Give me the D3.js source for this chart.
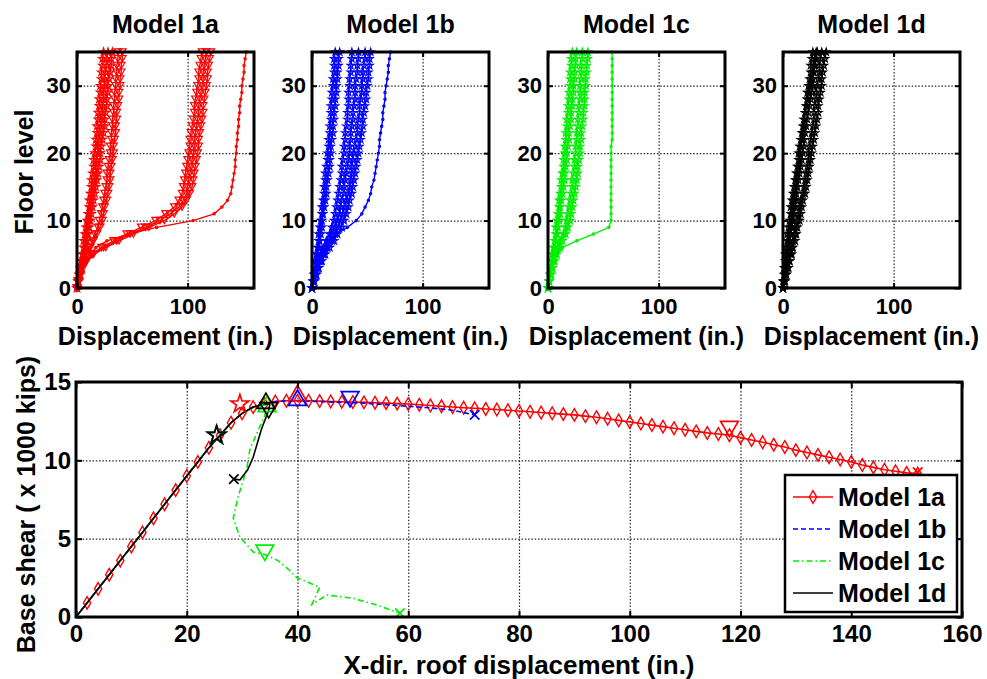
<!DOCTYPE html>
<html><head><meta charset="utf-8">
<script src="https://cdn.jsdelivr.net/npm/d3@7/dist/d3.min.js"></script>
<style>body{margin:0;background:#fff}svg{display:block}</style>
</head><body>
<svg id="c" width="987" height="679"></svg>
<script>
// ---------------- DATA ----------------
const floors = [0,1,2,3,4,5,6,7,8,9,10,11,12,13,14,15,16,17,18,19,20,21,22,23,24,25,26,27,28,29,30,31,32,33,34,35];
const panelTitles = ['Model 1a','Model 1b','Model 1c','Model 1d'];
const topXTicks = [0, 100];
const topYTicks = [0, 10, 20, 30];

// Model 1a displacement profiles (in.) per floor
const m1aElastic = [
 [0,1,2,3,4,5,6,6,7,8,9,10,11,11,12,13,13,14,15,15,16,17,17,18,18,19,19,20,20,21,21,22,22,23,23,24],
 [0,1,2,3,4,6,7,8,9,10,11,11,12,13,14,15,16,17,17,18,19,19,20,21,22,22,23,23,24,24,25,25,26,27,27,28],
 [0,1,3,4,5,6,8,9,10,11,12,13,14,15,16,17,18,19,20,21,21,22,23,24,25,25,26,27,27,28,28,29,30,31,31,32]
];
const m1aYield = [
 [0,1,3,4,6,9,11,14,16,19,20,22,23,24,25,26,27,27,28,29,30,30,31,31,32,32,33,33,34,34,35,35,36,36,37,37],
 [0,2,3,5,7,9,12,15,18,21,23,24,25,27,28,29,30,30,31,32,33,33,34,35,35,36,36,37,38,38,39,39,40,40,41,41]
];
const m1aSoft = [
 [0,1,3,5,8,13,22,33,45,58,71,80,88,92,95,96,97,98,99,100,101,102,102,103,104,105,106,106,107,108,109,110,110,111,112,113],
 [0,1,3,5,8,14,24,36,48,62,75,84,92,96,99,100,101,102,103,104,105,106,106,107,108,109,110,110,111,112,113,114,114,115,116,117],
 [0,1,3,5,9,15,26,38,51,65,79,88,95,99,102,104,105,106,107,108,109,110,110,111,112,113,114,114,115,116,117,118,118,119,120,121]
];
const m1aFinal = [
 [0,2,4,6,9,12,17,27,46,72,105,124,131,136,139,140,141,142,143,143,144,144,145,145,146,146,147,147,148,149,149,150,151,151,152,153]
];
// Model 1b
const m1bElastic = [
 [0,1,2,3,3,4,5,6,6,7,8,9,9,10,11,11,12,12,13,14,14,15,15,16,16,17,17,17,18,18,19,19,20,20,20,21],
 [0,1,2,3,4,5,6,7,8,9,9,10,11,12,13,13,14,15,16,16,17,17,18,19,19,20,20,21,21,22,22,23,23,24,24,25]
];
const m1bYield = [
 [0,1,3,4,6,8,11,13,16,18,20,21,22,23,24,25,26,27,27,28,29,29,30,30,31,32,32,33,33,33,34,34,35,35,36,36],
 [0,2,3,5,7,10,13,16,18,21,23,25,26,27,29,29,30,31,32,33,34,34,35,35,36,37,37,38,39,39,39,40,41,41,42,42],
 [0,2,4,6,8,11,14,18,21,24,26,28,30,31,33,34,35,36,36,37,38,39,40,41,41,42,43,43,44,45,45,46,46,47,48,48],
 [0,2,4,6,9,12,16,20,23,27,29,31,33,34,36,37,38,39,40,41,42,43,44,45,46,46,47,48,49,49,50,51,51,52,52,53]
];
const m1bFinal = [
 [0,1,2,3,5,7,9,13,22,32,40,45,48,51,53,54,56,57,58,59,60,61,61,62,63,64,64,65,66,66,67,68,69,69,70,71]
];
// Model 1c
const m1cElastic = [
 [0,1,2,3,4,4,5,6,7,7,8,9,10,10,11,12,12,13,14,14,15,15,16,16,17,17,18,18,19,19,20,20,20,21,21,22],
 [0,1,2,3,4,5,6,7,8,9,10,11,11,12,13,14,15,15,16,17,17,18,19,19,20,21,21,22,22,23,23,24,24,25,25,26]
];
const m1cYield = [
 [0,1,2,4,5,7,9,11,14,16,17,18,19,20,21,22,22,23,24,24,25,25,26,26,27,27,28,28,29,29,29,30,30,30,31,31],
 [0,1,3,4,6,8,11,13,16,18,20,21,22,23,24,25,26,27,27,28,29,29,30,30,31,32,32,33,33,33,34,34,35,35,36,36]
];
const m1cFinal = [
 [0,1,2,3,5,8,13,26,41,55,57,57,57,57,57,57,57,57,57,57,57,57,58,58,58,58,58,58,58,58,58,58,58,58,58,58]
];
// Model 1d
const m1dProfiles = [
 [0,0,1,1,2,2,3,4,4,5,6,7,7,8,9,10,11,12,13,14,14,15,16,17,18,19,20,21,22,23,25,26,27,28,29,30],
 [0,1,2,2,3,4,5,5,6,7,8,8,9,10,11,12,12,13,14,15,15,16,17,18,19,19,20,21,22,22,23,24,25,25,26,27],
 [0,1,2,3,4,4,5,6,7,8,9,10,11,12,12,13,14,15,16,17,18,19,19,20,21,22,23,24,25,26,27,27,28,29,30,31],
 [0,1,3,4,6,7,8,9,11,12,13,14,15,16,18,19,20,21,22,23,23,24,25,26,27,28,28,29,30,30,31,32,33,33,34,35],
 [0,2,3,5,6,8,9,11,12,13,15,16,17,18,20,21,22,23,24,25,26,27,28,29,30,31,32,32,33,34,35,35,36,37,38,39]
];

// Pushover curves: roof displacement (in.) vs base shear (x1000 kips)
const bottomXTicks = [0,20,40,60,80,100,120,140,160];
const bottomYTicks = [0,5,10,15];
const legendLabels = ['Model 1a','Model 1b','Model 1c','Model 1d'];

const push1aX = [0,2,4,6,8,10,12,14,16,18,20,22,24,26,28,30,32,34,36,38,40,42,44,46,48,50,52,54,56,58,60,62,64,66,68,70,72,74,76,78,80,82,84,86,88,90,92,94,96,98,100,102,104,106,108,110,112,114,116,118,120,122,124,126,128,130,132,134,136,138,140,142,144,146,148,150,152];
const push1aY = [0,0.9,1.8,2.7,3.6,4.5,5.4,6.3,7.2,8.1,9.0,9.9,10.8,11.6,12.4,13.0,13.4,13.6,13.75,13.8,13.8,13.8,13.78,13.76,13.74,13.72,13.7,13.68,13.65,13.62,13.6,13.55,13.5,13.45,13.4,13.36,13.32,13.28,13.24,13.2,13.15,13.1,13.05,13.0,12.95,12.9,12.82,12.75,12.65,12.55,12.45,12.35,12.25,12.15,12.05,11.95,11.85,11.75,11.68,11.6,11.45,11.3,11.15,11.0,10.85,10.65,10.5,10.35,10.2,10.05,9.9,9.7,9.55,9.4,9.3,9.2,9.15];
const push1bX = [0,2,4,6,8,10,12,14,16,18,20,22,24,26,28,30,32,34,36,38,40,44,48,52,56,60,64,68,70,72];
const push1bY = [0,0.9,1.8,2.7,3.6,4.5,5.4,6.3,7.2,8.1,9.0,9.9,10.8,11.6,12.4,13.0,13.4,13.6,13.75,13.8,13.8,13.75,13.7,13.65,13.55,13.45,13.35,13.2,13.05,12.9];
const push1cX = [0,2,4,6,8,10,12,14,16,18,20,22,24,26,28,30,32,34,34.7,34,33,31.4,30.8,29.3,28.4,29.6,32,34,36.5,38.5,39.9,42,44,42.6,45.3,50,54,58.5];
const push1cY = [0,0.9,1.8,2.7,3.6,4.5,5.4,6.3,7.2,8.1,9.0,9.9,10.8,11.6,12.4,13.0,13.35,13.55,13.5,12.8,12.0,10.7,9.4,7.7,6.3,5.1,4.15,4.0,3.6,3.0,2.5,2.2,1.9,0.8,1.4,1.2,0.8,0.25];
const push1dX = [0,2,4,6,8,10,12,14,16,18,20,22,24,26,28,30,32,34,35,34.8,33.5,32,31,29.6,28.5];
const push1dY = [0,0.9,1.8,2.7,3.6,4.5,5.4,6.3,7.2,8.1,9.0,9.9,10.8,11.6,12.4,13.0,13.4,13.6,13.6,13.2,12.0,10.2,9.4,8.75,8.8];

// Event points in order: [star, triangle-up, triangle-down, x]
const events1a = [[29.6,13.6],[40,14.3],[118,12.0],[152,9.25]];
const events1b = [[25.4,11.6],[40,14.0],[49.5,13.9],[72,12.9]];
const events1c = [[25.4,11.6],[34.5,13.6],[34.1,4.1],[58.5,0.25]];
const events1d = [[25.4,11.6],[34.3,13.8],[34.8,13.2],[28.5,8.8]];

// ---------------- RENDER ----------------
const FONT = '"Liberation Sans", Arial, Helvetica, sans-serif';
const svg = d3.select('#c');

const triUp = {draw(ctx,size){const s=Math.sqrt(size/0.433),h=s*0.866;ctx.moveTo(0,-h/2);ctx.lineTo(s/2,h/2);ctx.lineTo(-s/2,h/2);ctx.closePath();}};
const triDown = {draw(ctx,size){const s=Math.sqrt(size/0.433),h=s*0.866;ctx.moveTo(0,h/2);ctx.lineTo(s/2,-h/2);ctx.lineTo(-s/2,-h/2);ctx.closePath();}};
const xMark = {draw(ctx,size){const r=Math.sqrt(size)/2;ctx.moveTo(-r,-r);ctx.lineTo(r,r);ctx.moveTo(r,-r);ctx.lineTo(-r,r);}};
const dotMark = {draw(ctx,size){const r=Math.sqrt(size)/2;ctx.moveTo(r,0);ctx.arc(0,0,r,0,2*Math.PI);}};
const symTypes = {star:d3.symbolStar, triUp:triUp, triDown:triDown, x:xMark, dot:dotMark, diamond:d3.symbolDiamond};

function styleAxisText(g, size){
  g.attr('font-family',FONT).attr('font-size',size).attr('font-weight','bold');
  g.selectAll('text').attr('fill','#000');
  g.select('.domain').remove();
  g.selectAll('.tick line').attr('stroke','#000').attr('stroke-width',2);
}
function gridStyle(g){
  g.select('.domain').remove();
  g.selectAll('.tick line').attr('stroke','#000').attr('stroke-width',1.2).attr('stroke-dasharray','1.5,1.8').attr('opacity',0.85);
}

// ----- top panels -----
const topY0 = 52, topY1 = 288, panelW = 177;
const panelLefts = [77, 312, 548, 783];
const panelColors = ['#ff0000','#0000ff','#00ee00','#000000'];
const panelGroups = [
  [{d:m1aElastic,m:'star',s:18},{d:m1aYield,m:'triDown',s:24},{d:m1aSoft,m:'triDown',s:24},{d:m1aFinal,m:'dot',s:5}],
  [{d:m1bElastic,m:'star',s:16},{d:m1bYield,m:'star',s:16},{d:m1bFinal,m:'dot',s:5}],
  [{d:m1cElastic,m:'star',s:16},{d:m1cYield,m:'star',s:16},{d:m1cFinal,m:'dot',s:5}],
  [{d:m1dProfiles,m:'star',s:16}]
];

panelTitles.forEach((title,i)=>{
  const left = panelLefts[i];
  const x = d3.scaleLinear().domain([0,160]).range([left,left+panelW]);
  const y = d3.scaleLinear().domain([0,35]).range([topY1,topY0]);
  const g = svg.append('g');
  // grid
  g.append('g').attr('transform',`translate(0,${topY1})`)
    .call(d3.axisBottom(x).tickValues(topXTicks.filter(v=>v>0)).tickSize(-(topY1-topY0)).tickFormat(''))
    .call(gridStyle);
  g.append('g').attr('transform',`translate(${left},0)`)
    .call(d3.axisLeft(y).tickValues(topYTicks.filter(v=>v>0)).tickSize(-panelW).tickFormat(''))
    .call(gridStyle);
  // curves
  const line = d3.line().x(d=>x(d)).y((d,k)=>y(floors[k]));
  const col = panelColors[i];
  panelGroups[i].forEach(grp=>{
    grp.d.forEach(prof=>{
      g.append('path').attr('d',line(prof)).attr('fill','none').attr('stroke',col).attr('stroke-width',1.4);
      const sym = d3.symbol().type(symTypes[grp.m]).size(grp.s);
      g.append('g').selectAll('path').data(prof).join('path')
        .attr('transform',(d,k)=>`translate(${x(d)},${y(floors[k])})`)
        .attr('d',sym()).attr('fill','none').attr('stroke',col).attr('stroke-width',1.2);
    });
  });
  // box
  g.append('rect').attr('x',left).attr('y',topY0).attr('width',panelW).attr('height',topY1-topY0)
    .attr('fill','none').attr('stroke','#000').attr('stroke-width',3);
  // ticks + labels
  g.append('g').attr('transform',`translate(0,${topY1})`)
    .call(d3.axisBottom(x).tickValues(topXTicks).tickSize(-5).tickPadding(10)).call(s=>styleAxisText(s,22));
  g.append('g').attr('transform',`translate(${left},0)`)
    .call(d3.axisLeft(y).tickValues(topYTicks).tickSize(-5).tickPadding(6)).call(s=>styleAxisText(s,22));
  g.append('g').attr('transform',`translate(0,${topY0})`)
    .call(d3.axisTop(x).tickValues(topXTicks).tickSize(-5).tickFormat('')).call(s=>styleAxisText(s,22));
  g.append('g').attr('transform',`translate(${left+panelW},0)`)
    .call(d3.axisRight(y).tickValues(topYTicks).tickSize(-5).tickFormat('')).call(s=>styleAxisText(s,22));
  // title & x label
  g.append('text').attr('x',left+panelW/2).attr('y',33).attr('text-anchor','middle')
    .attr('font-family',FONT).attr('font-size',25).attr('font-weight','bold').text(title);
  g.append('text').attr('x',left+panelW/2).attr('y',345).attr('text-anchor','middle')
    .attr('font-family',FONT).attr('font-size',25).attr('font-weight','bold').text('Displacement (in.)');
});
svg.append('text').attr('transform','translate(33,172) rotate(-90)').attr('text-anchor','middle')
  .attr('font-family',FONT).attr('font-size',25).attr('font-weight','bold').text('Floor level');

// ----- bottom chart -----
const bL=76, bR=962, bT=382, bB=617;
const bx = d3.scaleLinear().domain([0,160]).range([bL,bR]);
const by = d3.scaleLinear().domain([0,15]).range([bB,bT]);
const bg = svg.append('g');
bg.append('g').attr('transform',`translate(0,${bB})`)
  .call(d3.axisBottom(bx).tickValues(bottomXTicks.filter(v=>v>0&&v<160)).tickSize(-(bB-bT)).tickFormat('')).call(gridStyle);
bg.append('g').attr('transform',`translate(${bL},0)`)
  .call(d3.axisLeft(by).tickValues(bottomYTicks.filter(v=>v>0&&v<15)).tickSize(-(bR-bL)).tickFormat('')).call(gridStyle);

const series = [
  {X:push1aX,Y:push1aY,E:events1a,c:'#ff0000',dash:null,marker:true},
  {X:push1bX,Y:push1bY,E:events1b,c:'#0000ff',dash:'5,3',marker:false},
  {X:push1cX,Y:push1cY,E:events1c,c:'#00ee00',dash:'6,3,1.5,3',marker:false},
  {X:push1dX,Y:push1dY,E:events1d,c:'#000000',dash:null,marker:false}
];
const eventShapes = [['star',100],['triUp',135],['triDown',135],['x',90]];
const pline = d3.line().x(d=>bx(d[0])).y(d=>by(d[1]));
series.forEach(s=>{
  const pts = s.X.map((v,k)=>[v,s.Y[k]]);
  bg.append('path').attr('d',pline(pts)).attr('fill','none').attr('stroke',s.c).attr('stroke-width',1.6)
    .attr('stroke-dasharray',s.dash);
  if(s.marker){
    const sym = d3.symbol().type(d3.symbolDiamond).size(46);
    bg.append('g').selectAll('path').data(pts.slice(1)).join('path')
      .attr('transform',d=>`translate(${bx(d[0])},${by(d[1])})`).attr('d',sym())
      .attr('fill','none').attr('stroke',s.c).attr('stroke-width',1.4);
  }
});
series.forEach(s=>{
  s.E.forEach((e,k)=>{
    const [shape,size] = eventShapes[k];
    bg.append('path').attr('transform',`translate(${bx(e[0])},${by(e[1])})`)
      .attr('d',d3.symbol().type(symTypes[shape]).size(size)())
      .attr('fill','none').attr('stroke',s.c).attr('stroke-width',1.7);
  });
});
bg.append('rect').attr('x',bL).attr('y',bT).attr('width',bR-bL).attr('height',bB-bT)
  .attr('fill','none').attr('stroke','#000').attr('stroke-width',3);
bg.append('g').attr('transform',`translate(0,${bB})`)
  .call(d3.axisBottom(bx).tickValues(bottomXTicks).tickSize(-6).tickPadding(8)).call(s=>styleAxisText(s,24));
bg.append('g').attr('transform',`translate(${bL},0)`)
  .call(d3.axisLeft(by).tickValues(bottomYTicks).tickSize(-6).tickPadding(5)).call(s=>styleAxisText(s,24));
bg.append('g').attr('transform',`translate(0,${bT})`)
  .call(d3.axisTop(bx).tickValues(bottomXTicks).tickSize(-6).tickFormat('')).call(s=>styleAxisText(s,24));
bg.append('g').attr('transform',`translate(${bR},0)`)
  .call(d3.axisRight(by).tickValues(bottomYTicks).tickSize(-6).tickFormat('')).call(s=>styleAxisText(s,24));
bg.append('text').attr('x',(bL+bR)/2).attr('y',674).attr('text-anchor','middle')
  .attr('font-family',FONT).attr('font-size',26).attr('font-weight','bold').text('X-dir. roof displacement (in.)');
bg.append('text').attr('transform',`translate(35,${(bT+bB)/2+5}) rotate(-90)`).attr('text-anchor','middle')
  .attr('font-family',FONT).attr('font-size',25).attr('font-weight','bold').text('Base shear ( x 1000 kips)');

// legend
const lg = bg.append('g');
const lgX=785, lgY=475, lgW=172, lgH=137, rowH=32;
lg.append('rect').attr('x',lgX).attr('y',lgY).attr('width',lgW).attr('height',lgH)
  .attr('fill','#fff').attr('stroke','#000').attr('stroke-width',2.5);
legendLabels.forEach((lab,k)=>{
  const yy = lgY+22+k*rowH;
  const s = series[k];
  lg.append('line').attr('x1',lgX+8).attr('x2',lgX+48).attr('y1',yy).attr('y2',yy)
    .attr('stroke',s.c).attr('stroke-width',1.6).attr('stroke-dasharray',s.dash);
  if(s.marker){
    lg.append('path').attr('transform',`translate(${lgX+28},${yy})`)
      .attr('d',d3.symbol().type(d3.symbolDiamond).size(46)()).attr('fill','none').attr('stroke',s.c).attr('stroke-width',1.4);
  }
  lg.append('text').attr('x',lgX+53).attr('y',yy+9).attr('font-family',FONT).attr('font-size',25)
    .attr('font-weight','bold').attr('fill','#000').text(lab);
});
</script>
</body></html>
